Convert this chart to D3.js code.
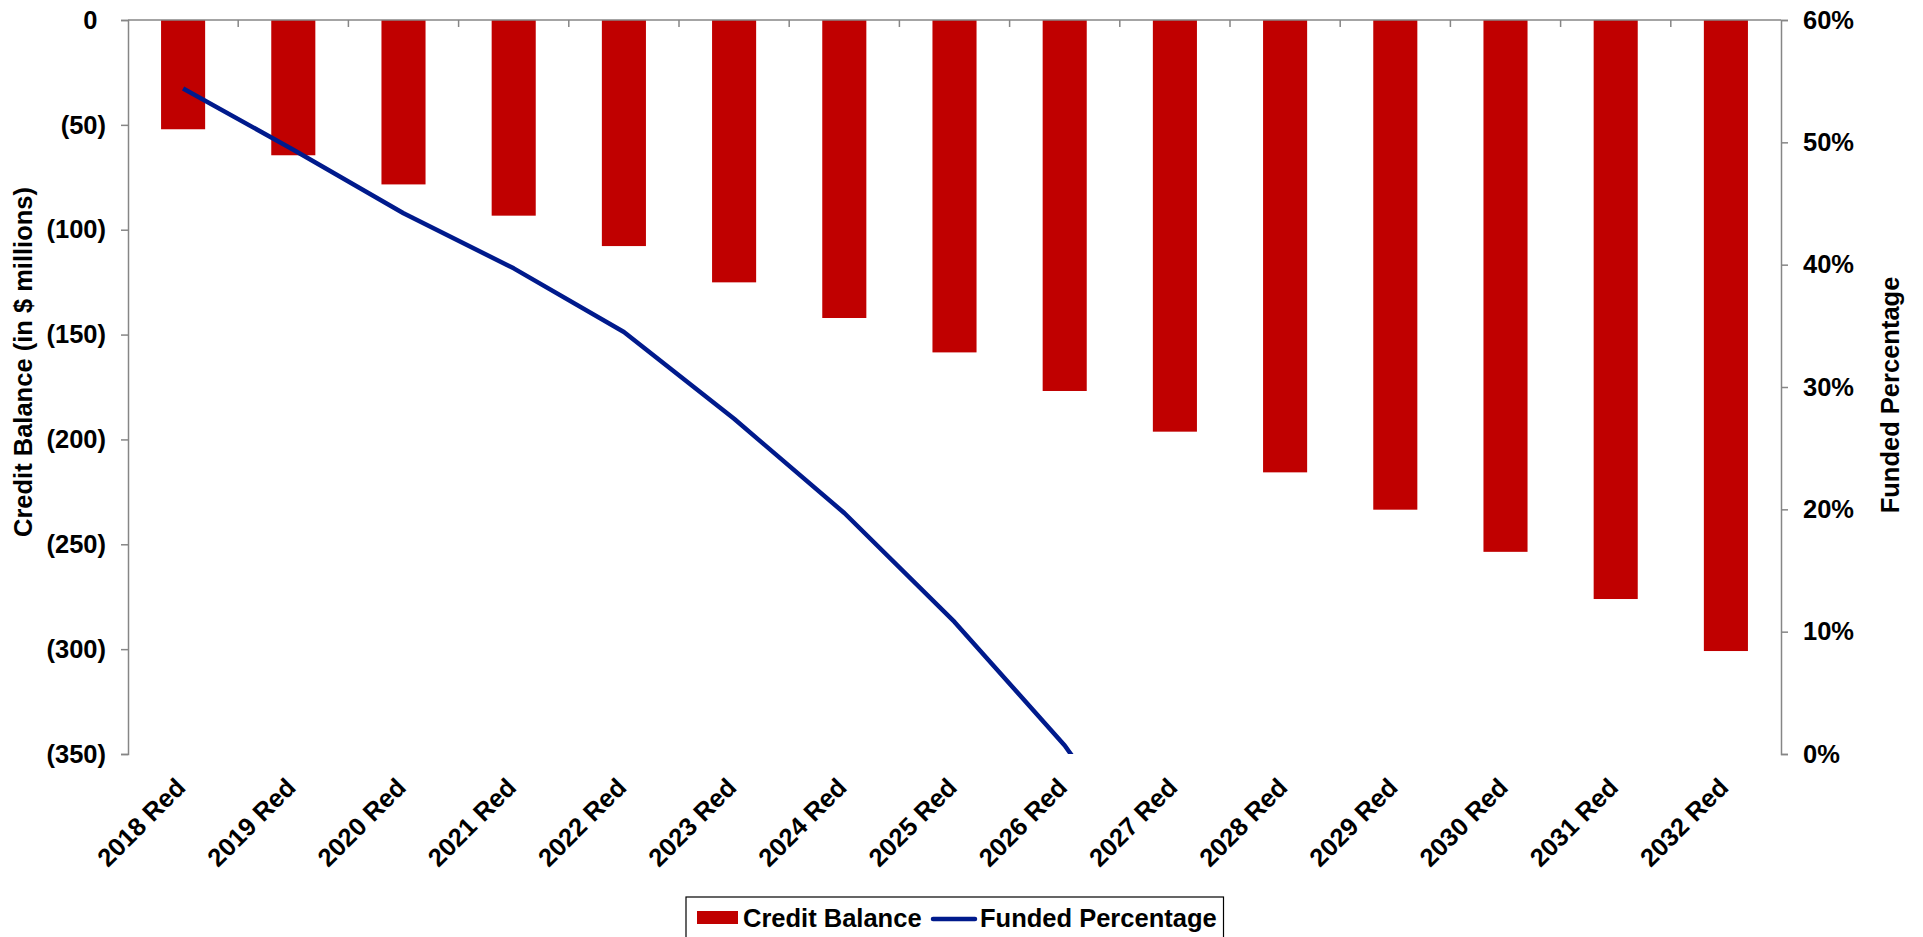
<!DOCTYPE html>
<html>
<head>
<meta charset="utf-8">
<script src="https://cdn.jsdelivr.net/npm/d3@7"></script>
<style>
  html, body { margin: 0; padding: 0; background: #fff; }
  svg { display: block; }
  text { font-family: "Liberation Sans", Arial, sans-serif; font-weight: bold; fill: #000; }
</style>
</head>
<body>
<svg id="chart" width="1923" height="937"></svg>
<script>
// Reduction scenario years
const categories = ["2018 Red", "2019 Red", "2020 Red", "2021 Red", "2022 Red",
  "2023 Red", "2024 Red", "2025 Red", "2026 Red", "2027 Red",
  "2028 Red", "2029 Red", "2030 Red", "2031 Red", "2032 Red"];

// Credit balance, $ millions
const creditBalance = [-52.1, -64.5, -78.4, -93.3, -107.8, -125.1, -142.1, -158.5,
  -176.9, -196.3, -215.7, -233.5, -253.6, -276.1, -300.9];

// Funded percentage (falls below zero after 2026; axis clips at 0%)
const fundedPct = [0.544, 0.494, 0.442, 0.397, 0.345, 0.274, 0.197, 0.108,
  0.007, -0.12, null, null, null, null, null];

const leftTicks = [0, -50, -100, -150, -200, -250, -300, -350];
const rightTicks = [0, 0.1, 0.2, 0.3, 0.4, 0.5, 0.6];

const svg = d3.select("#chart");
const plot = { left: 128, right: 1781, top: 20, bottom: 754 };
const axisColor = "#868686";
const fontSize = 25.5;

const slot = d3.scaleBand().domain(categories).range([plot.left, plot.right]).padding(0);
const x = d3.scaleBand().domain(categories).range([plot.left, plot.right])
  .paddingInner(0.6).paddingOuter(0.3);
const yL = d3.scaleLinear().domain([-350, 0]).range([plot.bottom, plot.top]);
const yR = d3.scaleLinear().domain([0, 0.6]).range([plot.bottom, plot.top]);

// clip region for the line
svg.append("defs").append("clipPath").attr("id", "plotClip")
  .append("rect")
  .attr("x", plot.left).attr("y", plot.top)
  .attr("width", plot.right - plot.left).attr("height", plot.bottom - plot.top);

// Bars
svg.append("g").selectAll("rect").data(categories).join("rect")
  .attr("x", (d) => x(d))
  .attr("width", x.bandwidth())
  .attr("y", yL(0))
  .attr("height", (d, i) => yL(creditBalance[i]) - yL(0))
  .attr("fill", "#C00000");

// Category axis along the zero line (top)
const topAxis = svg.append("g");
topAxis.append("line")
  .attr("x1", plot.left).attr("x2", plot.right)
  .attr("y1", yL(0)).attr("y2", yL(0))
  .attr("stroke", axisColor).attr("stroke-width", 1.5);
topAxis.selectAll("line.tick").data(categories.slice(1)).join("line")
  .attr("class", "tick")
  .attr("x1", (d) => slot(d)).attr("x2", (d) => slot(d))
  .attr("y1", yL(0)).attr("y2", yL(0) + 7)
  .attr("stroke", axisColor).attr("stroke-width", 1.5);

// Category labels at the bottom, rotated
svg.append("g").selectAll("text").data(categories).join("text")
  .attr("transform", (d) => `translate(${x(d) + x.bandwidth() / 2 + 4},${plot.bottom + 35}) rotate(-45)`)
  .attr("text-anchor", "end")
  .style("font-size", fontSize + "px")
  .text((d) => d);

// Left axis
const leftAxis = svg.append("g")
  .attr("transform", `translate(${plot.left},0)`)
  .call(d3.axisLeft(yL).tickValues(leftTicks).tickSize(7).tickPadding(15)
    .tickFormat((v) => v < 0 ? `(${d3.format(",")(-v)})` : d3.format(",")(v)));
leftAxis.select(".domain").attr("stroke", axisColor).attr("stroke-width", 1.5);
leftAxis.selectAll(".tick line").attr("stroke", axisColor).attr("stroke-width", 1.5);
leftAxis.selectAll(".tick text")
  .style("font-size", fontSize + "px")
  .attr("dx", (v) => v >= 0 ? "-0.333em" : 0);

// Right axis
const rightAxis = svg.append("g")
  .attr("transform", `translate(${plot.right},0)`)
  .call(d3.axisRight(yR).tickValues(rightTicks).tickSize(7).tickPadding(15)
    .tickFormat(d3.format(".0%")));
rightAxis.select(".domain").attr("stroke", axisColor).attr("stroke-width", 1.5);
rightAxis.selectAll(".tick line").attr("stroke", axisColor).attr("stroke-width", 1.5);
rightAxis.selectAll(".tick text").style("font-size", fontSize + "px");

// Funded percentage line
const line = d3.line()
  .defined((d) => d != null)
  .x((d, i) => x(categories[i]) + x.bandwidth() / 2)
  .y((d) => yR(d));
svg.append("path")
  .datum(fundedPct)
  .attr("clip-path", "url(#plotClip)")
  .attr("d", line)
  .attr("fill", "none")
  .attr("stroke", "#001A8C")
  .attr("stroke-width", 4.5)
  .attr("stroke-linejoin", "round");

// Axis titles
svg.append("text")
  .attr("transform", `translate(31.5,${(plot.top + plot.bottom) / 2 - 25}) rotate(-90)`)
  .attr("text-anchor", "middle")
  .style("font-size", fontSize + "px")
  .text("Credit Balance (in $ millions)");

svg.append("text")
  .attr("transform", `translate(1899,${(plot.top + plot.bottom) / 2 + 8}) rotate(-90)`)
  .attr("text-anchor", "middle")
  .style("font-size", fontSize + "px")
  .text("Funded Percentage");

// Legend
const legend = svg.append("g");
legend.append("rect")
  .attr("x", 686).attr("y", 897)
  .attr("width", 537.5).attr("height", 60)
  .attr("fill", "#fff").attr("stroke", "#000").attr("stroke-width", 1.2);
legend.append("rect")
  .attr("x", 697).attr("y", 911).attr("width", 41).attr("height", 13)
  .attr("fill", "#C00000");
legend.append("text")
  .attr("x", 743).attr("y", 927)
  .style("font-size", fontSize + "px")
  .text("Credit Balance");
legend.append("line")
  .attr("x1", 933).attr("x2", 975).attr("y1", 919).attr("y2", 919)
  .attr("stroke", "#001A8C").attr("stroke-width", 4.5).attr("stroke-linecap", "round");
legend.append("text")
  .attr("x", 980).attr("y", 927)
  .style("font-size", fontSize + "px")
  .text("Funded Percentage");
</script>
</body>
</html>
